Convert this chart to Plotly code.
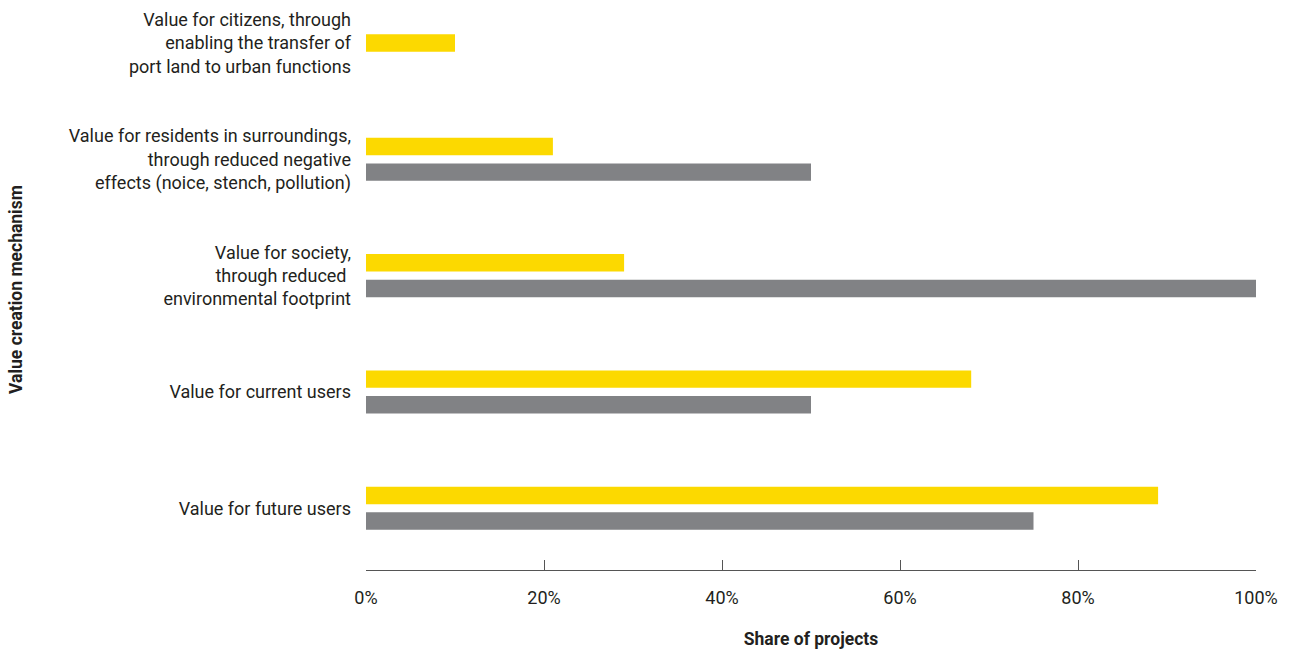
import plotly.graph_objects as go

# Value creation mechanisms, listed top to bottom
categories = [
    "Value for citizens, through<br>enabling the transfer of<br>port land to urban functions",
    "Value for residents in surroundings,<br>through reduced negative<br>effects (noice, stench, pollution)",
    "Value for society,<br>through reduced <br>environmental footprint",
    "Value for current users",
    "Value for future users",
]

# Share of projects (%) per series; None = no bar
yellow_values = [10, 21, 29, 68, 89]
gray_values = [None, 50, 100, 50, 75]

x_ticks = [0, 20, 40, 60, 80, 100]
x_ticklabels = ["0%", "20%", "40%", "60%", "80%", "100%"]

YELLOW = "#FCD900"
GRAY = "#818285"
TEXT = "#231F20"
FONT = "Roboto"

bar_w = 0.15       # bar thickness in category units
half_sep = 0.11    # distance from group centre to each bar centre

# a lone bar sits centred on its category; paired bars split around it
yellow_offset = [(-bar_w / 2) if g is None else (-half_sep - bar_w / 2) for g in gray_values]
gray_offset = [half_sep - bar_w / 2 for _ in gray_values]

fig = go.Figure()
fig.add_trace(go.Bar(
    y=categories, x=yellow_values, orientation="h",
    marker=dict(color=YELLOW, line=dict(width=0)),
    width=bar_w, offset=yellow_offset, hoverinfo="x+y",
))
fig.add_trace(go.Bar(
    y=categories, x=gray_values, orientation="h",
    marker=dict(color=GRAY, line=dict(width=0)),
    width=bar_w, offset=gray_offset, hoverinfo="x+y",
))

fig.update_layout(
    width=1291, height=650,
    margin=dict(l=366, r=35, t=10, b=80),
    paper_bgcolor="white", plot_bgcolor="white",
    barmode="overlay",
    showlegend=False,
    font=dict(family=FONT, size=18, color=TEXT),
    xaxis=dict(
        range=[0, 100],
        automargin=False,
        tickvals=x_ticks, ticktext=x_ticklabels,
        ticks="inside", ticklen=10, tickwidth=1, tickcolor="#555555",
        showline=True, linecolor="#555555", linewidth=1,
        showgrid=False, zeroline=False,
        ticklabelstandoff=11,
        tickfont=dict(family=FONT, size=18, color=TEXT),
        title=dict(text="<b>Share of projects</b>", standoff=26,
                   font=dict(family=FONT, size=17.5, color=TEXT)),
    ),
    yaxis=dict(
        type="category",
        automargin=False,
        categoryorder="array", categoryarray=categories,
        range=[4.531, -0.284],
        showline=False, showgrid=False, zeroline=False, ticks="",
        ticklabelstandoff=14,
        tickfont=dict(family=FONT, size=18, color=TEXT),
    ),
    annotations=[dict(
        text="<b>Value creation mechanism</b>",
        textangle=-90,
        xref="paper", yref="paper",
        x=(16 - 366) / 890, y=0.5,
        xanchor="center", yanchor="middle",
        showarrow=False,
        font=dict(family=FONT, size=17.5, color=TEXT),
    )],
)

fig.write_html("out.html")
